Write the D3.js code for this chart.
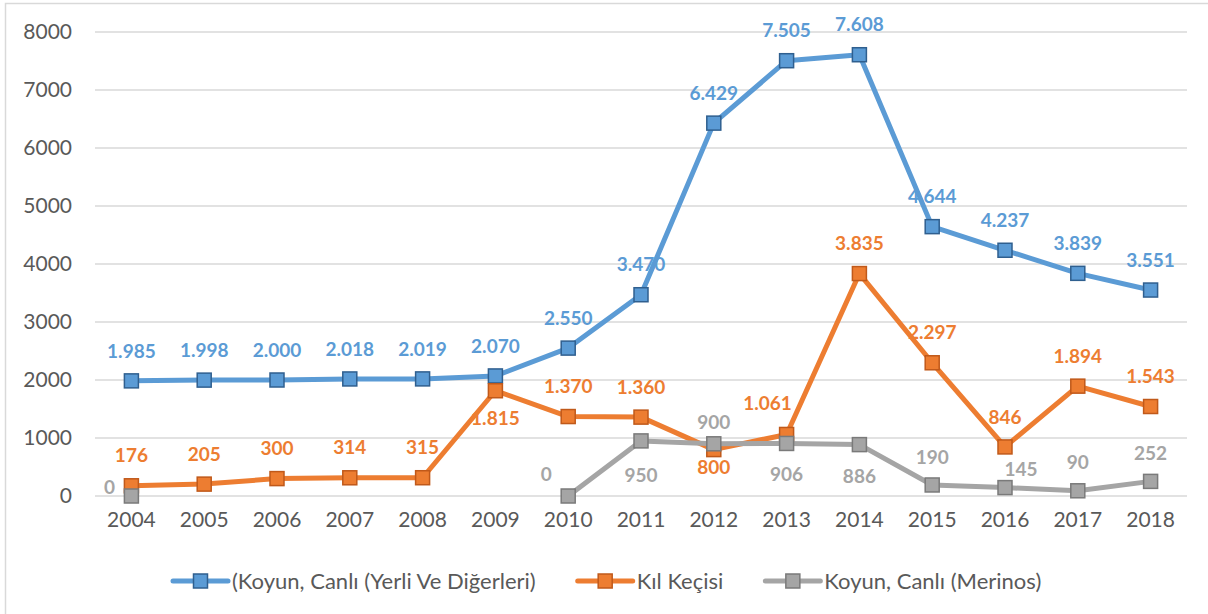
<!DOCTYPE html>
<html>
<head>
<meta charset="utf-8">
<script src="https://cdn.jsdelivr.net/npm/d3@7"></script>
<style>
  body { margin: 0; background: #fff; }
  svg { display: block; font-family: Lato, "Open Sans", sans-serif; }
</style>
</head>
<body>
<div id="chart"></div>
<script>
// data
var years = ["2004", "2005", "2006", "2007", "2008", "2009", "2010", "2011",
  "2012", "2013", "2014", "2015", "2016", "2017", "2018"];
var yerli = [1985, 1998, 2000, 2018, 2019, 2070, 2550, 3470, 6429, 7505, 7608, 4644, 4237, 3839, 3551];
var kilKecisi = [176, 205, 300, 314, 315, 1815, 1370, 1360, 800, 1061, 3835, 2297, 846, 1894, 1543];
var merinos = [0, null, null, null, null, null, 0, 950, 900, 906, 886, 190, 145, 90, 252];
var yTicks = [0, 1000, 2000, 3000, 4000, 5000, 6000, 7000, 8000];
var seriesNames = ["(Koyun, Canlı (Yerli Ve Diğerleri)", "Kıl Keçisi", "Koyun, Canlı (Merinos)"];

// label nudges (dx, dy from the point), default is above
var kilOffsets = { "2009": [0, 28], "2012": [0, 18], "2013": [-19, -31] };
var merinosOffsets = {
  "2004": [-22, -9], "2010": [-22, -22], "2011": [0, 34], "2012": [0, -21],
  "2013": [0, 31], "2014": [0, 32], "2015": [0, -28], "2016": [16, -18],
  "2017": [0, -28], "2018": [0, -28]
};

var series = [
  { name: seriesNames[0], values: yerli, color: "#5B9BD5", edge: "#2F5F8F", offsets: {} },
  { name: seriesNames[1], values: kilKecisi, color: "#ED7D31", edge: "#C0591A", offsets: kilOffsets },
  { name: seriesNames[2], values: merinos, color: "#A5A5A5", edge: "#7A7A7A", offsets: merinosOffsets }
];

var svgWidth = 1208;
var svgHeight = 614;

var svg = d3.select("#chart")
    .append("svg")
    .attr("width", svgWidth)
    .attr("height", svgHeight);

// chart border
svg.append("rect")
    .attr("x", 5.5)
    .attr("y", 3.5)
    .attr("width", 1400)
    .attr("height", 800)
    .attr("fill", "none")
    .attr("stroke", "#D9D9D9")
    .attr("stroke-width", 1.5);

var xScale = d3.scaleBand()
    .domain(years)
    .range([95, 1187]);

var yScale = d3.scaleLinear()
    .domain([0, 8000])
    .range([496, 32]);

var xc = d => xScale(d) + xScale.bandwidth() / 2;

// gridlines
svg.append("g")
    .selectAll("line")
    .data(yTicks)
    .enter()
    .append("line")
    .attr("x1", 95)
    .attr("x2", 1187)
    .attr("y1", d => yScale(d))
    .attr("y2", d => yScale(d))
    .attr("stroke", "#D9D9D9")
    .attr("stroke-width", 1.5);

// y axis labels
var yAxis = d3.axisLeft(yScale).tickValues(yTicks).tickFormat(d3.format("d")).tickSize(0).tickPadding(0);
var yG = svg.append("g")
    .attr("transform", "translate(72,0)")
    .call(yAxis);
yG.select(".domain").remove();
yG.selectAll("text")
    .attr("fill", "#595959")
    .style("font-size", "21px")
    .style("font-family", "Lato, 'Open Sans', sans-serif");

// x axis labels
var xAxis = d3.axisBottom(xScale).tickSize(0).tickPadding(0);
var xG = svg.append("g")
    .attr("transform", "translate(0,512)")
    .call(xAxis);
xG.select(".domain").remove();
xG.selectAll("text")
    .attr("fill", "#595959")
    .style("font-size", "21px")
    .style("font-family", "Lato, 'Open Sans', sans-serif");

var line = d3.line()
    .defined(d => d.v !== null)
    .x(d => xc(d.year))
    .y(d => yScale(d.v));

var markerSize = 14;

series.forEach(function(s) {
  var pts = years.map((y, i) => ({ year: y, v: s.values[i] }));

  svg.append("path")
      .datum(pts)
      .attr("d", line)
      .attr("fill", "none")
      .attr("stroke", s.color)
      .attr("stroke-width", 5)
      .attr("stroke-linejoin", "round");

  svg.append("g")
      .selectAll("rect")
      .data(pts.filter(d => d.v !== null))
      .enter()
      .append("rect")
      .attr("x", d => xc(d.year) - markerSize / 2)
      .attr("y", d => yScale(d.v) - markerSize / 2)
      .attr("width", markerSize)
      .attr("height", markerSize)
      .attr("fill", s.color)
      .attr("stroke", s.edge)
      .attr("stroke-width", 1.5);
});

// data labels
var fmt = d3.formatLocale({ decimal: ",", thousands: ".", grouping: [3], currency: ["", "₺"] }).format(",d");

series.forEach(function(s) {
  var pts = years.map((y, i) => ({ year: y, v: s.values[i] })).filter(d => d.v !== null);
  svg.append("g")
      .selectAll("text")
      .data(pts)
      .enter()
      .append("text")
      .attr("x", d => xc(d.year) + (s.offsets[d.year] ? s.offsets[d.year][0] : 0))
      .attr("y", d => yScale(d.v) + (s.offsets[d.year] ? s.offsets[d.year][1] : -30))
      .attr("dy", "0.35em")
      .attr("text-anchor", "middle")
      .attr("fill", s.color)
      .style("font-size", "19px")
      .style("font-weight", "bold")
      .text(d => fmt(d.v));
});

// legend
var legend = svg.append("g").attr("transform", "translate(0,581)");
var lx = 173;
series.forEach(function(s) {
  var g = legend.append("g").attr("transform", `translate(${lx},0)`);
  g.append("line")
      .attr("x1", 0).attr("x2", 55)
      .attr("stroke", s.color)
      .attr("stroke-width", 5)
      .attr("stroke-linecap", "round");
  g.append("rect")
      .attr("x", 27.5 - markerSize / 2)
      .attr("y", -markerSize / 2)
      .attr("width", markerSize)
      .attr("height", markerSize)
      .attr("fill", s.color)
      .attr("stroke", s.edge)
      .attr("stroke-width", 1.5);
  var t = g.append("text")
      .attr("x", 59)
      .attr("dy", "0.35em")
      .attr("fill", "#595959")
      .style("font-size", "22px")
      .text(s.name);
  lx += 59 + t.node().getComputedTextLength() + 42;
});
</script>
</body>
</html>
